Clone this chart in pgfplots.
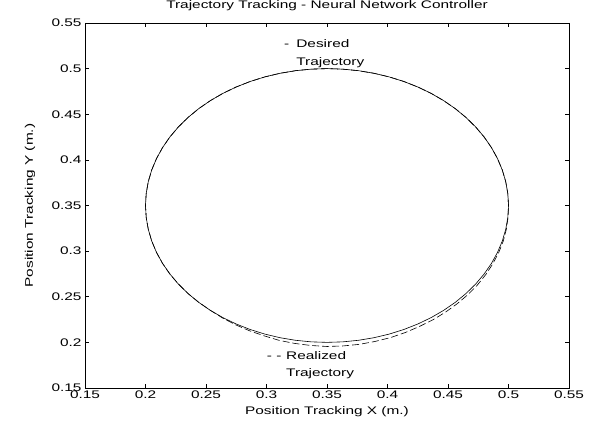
\documentclass[border=0pt]{standalone}
\usepackage{pgfplots}
\pgfplotsset{compat=1.18}
\usepackage{fontspec}
\setmainfont{Liberation Sans}
\newfontfamily\widefont[FakeStretch=1.4]{Liberation Sans}
\begin{document}
\begin{tikzpicture}
\begin{axis}[
  scale only axis,
  width=484bp, height=365bp,
  xmin=0.15, xmax=0.55, ymin=0.15, ymax=0.55,
  xtick={0.15,0.2,...,0.55}, ytick={0.15,0.2,...,0.55},
  xticklabels={0.15,0.2,0.25,0.3,0.35,0.4,0.45,0.5,0.55},
  yticklabels={0.15,0.2,0.25,0.3,0.35,0.4,0.45,0.5,0.55},
  tick align=inside, major tick length=4bp,
  tick style={black, line width=0.6bp},
  axis line style={black, line width=0.6bp},
  ticklabel style={font=\widefont\fontsize{11bp}{13bp}\selectfont},
  xticklabel style={yshift=1bp},
  xlabel={Position Tracking X (m.)},
  ylabel={Position Tracking Y (m.)},
  label style={font=\widefont\fontsize{11bp}{13bp}\selectfont},
  xlabel style={at={(rel axis cs:0.5,0)}, anchor=base, yshift=-27bp},
  ylabel style={at={(rel axis cs:0,0.5)}, anchor=base, yshift=52bp},
  title={Trajectory Tracking - Neural Network Controller},
  title style={font=\widefont\fontsize{11bp}{13bp}\selectfont, at={(rel axis cs:0.5,1)}, anchor=base, yshift=9bp, inner sep=0pt},
  clip=false,
]
\addplot[black, line width=0.6bp] coordinates {
(0.5,0.35)(0.49943,0.36307)(0.49772,0.37605)(0.49489,0.38882)(0.49095,0.40130)(0.48595,0.41339)
(0.47990,0.42500)(0.47287,0.43604)(0.46491,0.44642)(0.45607,0.45607)(0.44642,0.46491)(0.43604,0.47287)
(0.42500,0.47990)(0.41339,0.48595)(0.40130,0.49095)(0.38882,0.49489)(0.37605,0.49772)(0.36307,0.49943)
(0.35,0.5)(0.33693,0.49943)(0.32395,0.49772)(0.31118,0.49489)(0.29870,0.49095)(0.28661,0.48595)
(0.27500,0.47990)(0.26396,0.47287)(0.25358,0.46491)(0.24393,0.45607)(0.23509,0.44642)(0.22713,0.43604)
(0.22010,0.42500)(0.21405,0.41339)(0.20905,0.40130)(0.20511,0.38882)(0.20228,0.37605)(0.20057,0.36307)
(0.2,0.35)(0.20057,0.33693)(0.20228,0.32395)(0.20511,0.31118)(0.20905,0.29870)(0.21405,0.28661)
(0.22010,0.27500)(0.22713,0.26396)(0.23509,0.25358)(0.24393,0.24393)(0.25358,0.23509)(0.26396,0.22713)
(0.27500,0.22010)(0.28661,0.21405)(0.29870,0.20905)(0.31118,0.20511)(0.32395,0.20228)(0.33693,0.20057)
(0.35,0.2)(0.36307,0.20057)(0.37605,0.20228)(0.38882,0.20511)(0.40130,0.20905)(0.41339,0.21405)
(0.42500,0.22010)(0.43604,0.22713)(0.44642,0.23509)(0.45607,0.24393)(0.46491,0.25358)(0.47287,0.26396)
(0.47990,0.27500)(0.48595,0.28661)(0.49095,0.29870)(0.49489,0.31118)(0.49772,0.32395)(0.49943,0.33693)
(0.5,0.35)
};
\addplot[black, line width=0.6bp, dash pattern=on 7bp off 3bp] coordinates {
(0.5,0.35)(0.49943,0.36307)(0.49772,0.37605)(0.49489,0.38882)(0.49095,0.40130)(0.48595,0.41339)
(0.47990,0.42500)(0.47287,0.43604)(0.46491,0.44642)(0.45607,0.45607)(0.44642,0.46491)(0.43604,0.47287)
(0.42500,0.47990)(0.41339,0.48595)(0.40130,0.49095)(0.38882,0.49489)(0.37605,0.49772)(0.36307,0.49943)
(0.35,0.5)(0.33693,0.49943)(0.32395,0.49772)(0.31118,0.49489)(0.29870,0.49095)(0.28661,0.48595)
(0.27500,0.47990)(0.26396,0.47287)(0.25358,0.46491)(0.24393,0.45607)(0.23509,0.44642)(0.22713,0.43604)
(0.22010,0.42500)(0.21405,0.41339)(0.20905,0.40130)(0.20511,0.38882)(0.20228,0.37605)(0.20057,0.36307)
(0.2,0.35)(0.20057,0.33693)(0.20228,0.32395)(0.20511,0.31118)(0.20905,0.29870)(0.21405,0.28661)
(0.22010,0.27500)(0.22713,0.26396)(0.23509,0.25358)(0.24393,0.24393)(0.25358,0.23509)(0.26368,0.22672)
(0.27450,0.21923)(0.28597,0.21269)(0.29801,0.20717)(0.31040,0.20221)(0.32334,0.19883)(0.33658,0.19659)
(0.35,0.1955)(0.36347,0.19609)(0.37683,0.19785)(0.38991,0.20105)(0.40267,0.20529)(0.41487,0.21088)
(0.42650,0.21750)(0.43764,0.22483)(0.44803,0.23318)(0.45762,0.24238)(0.46644,0.25230)(0.47435,0.26293)
(0.48120,0.27425)(0.48703,0.28610)(0.49189,0.29835)(0.49566,0.31097)(0.49821,0.32387)(0.49963,0.33691)
(0.5,0.35)
};
\node[anchor=base west, inner sep=0pt, font=\widefont\fontsize{11bp}{13bp}\selectfont] at (axis cs:0.3145,0.5226) {-};
\node[anchor=base west, inner sep=0pt, font=\widefont\fontsize{11bp}{13bp}\selectfont] at (axis cs:0.3245,0.5226) {Desired};
\node[anchor=base west, inner sep=0pt, font=\widefont\fontsize{11bp}{13bp}\selectfont] at (axis cs:0.3245,0.5029) {Trajectory};
\node[anchor=base west, inner sep=0pt, font=\widefont\fontsize{11bp}{13bp}\selectfont] at (axis cs:0.3002,0.1807) {- -};
\node[anchor=base west, inner sep=0pt, font=\widefont\fontsize{11bp}{13bp}\selectfont] at (axis cs:0.3161,0.1807) {Realized};
\node[anchor=base west, inner sep=0pt, font=\widefont\fontsize{11bp}{13bp}\selectfont] at (axis cs:0.3161,0.1621) {Trajectory};
\end{axis}
\pgfresetboundingbox
\path ([shift={(-85bp,-41bp)}]current axis.south west) rectangle ([shift={(27bp,23bp)}]current axis.north east);
\end{tikzpicture}
\end{document}
